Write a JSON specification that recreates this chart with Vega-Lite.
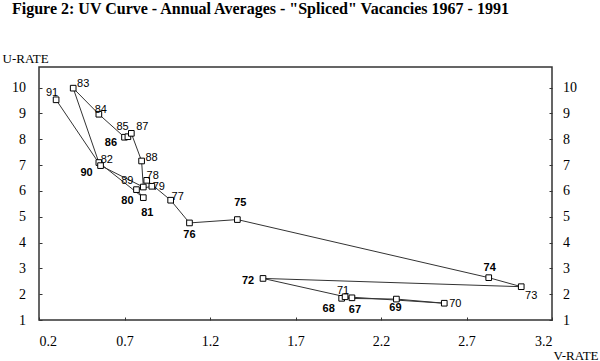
{
  "$schema": "https://vega.github.io/schema/vega-lite/v6.json",
  "width": 513,
  "height": 253,
  "autosize": {"type": "none"},
  "padding": {"left": 39, "top": 67, "right": 48, "bottom": 41},
  "title": {
    "text": "Figure 2: UV Curve - Annual Averages - \"Spliced\" Vacancies 1967 - 1991",
    "font": "Liberation Serif",
    "fontSize": 16,
    "fontWeight": "bold",
    "color": "#000000",
    "anchor": "start",
    "dx": 10,
    "offset": 35
  },
  "config": {
    "view": {"stroke": "#333333", "strokeWidth": 1.5},
    "axis": {
      "domain": false,
      "grid": false,
      "labelFont": "Liberation Serif",
      "labelFontSize": 14,
      "labelColor": "#000000",
      "tickColor": "#333333",
      "tickSize": -3,
      "titleFont": "Liberation Serif",
      "titleFontSize": 13,
      "titleFontWeight": "normal",
      "titleColor": "#000000"
    },
    "text": {"font": "Liberation Sans", "fontSize": 11, "color": "#000000"}
  },
  "data": {
    "values": [
      {"yr": 67, "v": 2.03, "u": 1.86},
      {"yr": 68, "v": 1.97, "u": 1.84},
      {"yr": 69, "v": 2.29, "u": 1.81},
      {"yr": 70, "v": 2.57, "u": 1.65},
      {"yr": 71, "v": 1.99, "u": 1.90},
      {"yr": 72, "v": 1.51, "u": 2.61},
      {"yr": 73, "v": 3.02, "u": 2.29},
      {"yr": 74, "v": 2.83, "u": 2.64},
      {"yr": 75, "v": 1.36, "u": 4.89},
      {"yr": 76, "v": 1.08, "u": 4.76},
      {"yr": 77, "v": 0.97, "u": 5.64},
      {"yr": 78, "v": 0.83, "u": 6.41},
      {"yr": 79, "v": 0.86, "u": 6.18},
      {"yr": 80, "v": 0.77, "u": 6.05},
      {"yr": 81, "v": 0.81, "u": 5.74},
      {"yr": 82, "v": 0.55, "u": 7.10},
      {"yr": 83, "v": 0.40, "u": 9.98},
      {"yr": 84, "v": 0.55, "u": 8.97},
      {"yr": 85, "v": 0.70, "u": 8.08},
      {"yr": 86, "v": 0.72, "u": 8.10},
      {"yr": 87, "v": 0.74, "u": 8.23},
      {"yr": 88, "v": 0.80, "u": 7.16},
      {"yr": 89, "v": 0.81, "u": 6.15},
      {"yr": 90, "v": 0.56, "u": 6.98},
      {"yr": 91, "v": 0.30, "u": 9.53}
    ]
  },
  "encoding": {
    "x": {
      "field": "v", "type": "quantitative",
      "scale": {"domain": [0.2, 3.2], "nice": false, "zero": false},
      "axis": {
        "values": [0.2, 0.7, 1.2, 1.7, 2.2, 2.7, 3.2],
        "format": ".1f",
        "labelFont": "Liberation Serif",
        "labelPadding": 17,
        "labelBaseline": "top",
        "title": "V-RATE",
        "titleAngle": 0,
        "titleX": 514,
        "titleY": 39,
        "titleAlign": "left",
        "titleBaseline": "alphabetic"
      }
    },
    "y": {
      "field": "u", "type": "quantitative",
      "scale": {"domain": [1, 10.8], "nice": false, "zero": false}
    }
  },
  "layer": [
    {
      "layer": [
        {
          "mark": {"type": "line", "color": "#333333", "strokeWidth": 1},
          "encoding": {"order": {"field": "yr", "type": "quantitative"}}
        },
        {
          "mark": {"type": "point", "shape": "square", "size": 32, "filled": true, "fill": "#ffffff", "stroke": "#000000", "strokeWidth": 1, "opacity": 1}
        },
        {"transform": [{"filter": "datum.yr == 67"}], "mark": {"type": "text", "dx": 3, "dy": 12, "fontWeight": "bold"}, "encoding": {"text": {"field": "yr"}}},
        {"transform": [{"filter": "datum.yr == 68"}], "mark": {"type": "text", "dx": -13, "dy": 11, "fontWeight": "bold"}, "encoding": {"text": {"field": "yr"}}},
        {"transform": [{"filter": "datum.yr == 69"}], "mark": {"type": "text", "dx": -1, "dy": 9, "fontWeight": "bold"}, "encoding": {"text": {"field": "yr"}}},
        {"transform": [{"filter": "datum.yr == 70"}], "mark": {"type": "text", "dx": 11, "dy": 1}, "encoding": {"text": {"field": "yr"}}},
        {"transform": [{"filter": "datum.yr == 71"}], "mark": {"type": "text", "dx": -2, "dy": -6}, "encoding": {"text": {"field": "yr"}}},
        {"transform": [{"filter": "datum.yr == 72"}], "mark": {"type": "text", "dx": -15, "dy": 3, "fontWeight": "bold"}, "encoding": {"text": {"field": "yr"}}},
        {"transform": [{"filter": "datum.yr == 73"}], "mark": {"type": "text", "dx": 10, "dy": 9}, "encoding": {"text": {"field": "yr"}}},
        {"transform": [{"filter": "datum.yr == 74"}], "mark": {"type": "text", "dx": 1, "dy": -10, "fontWeight": "bold"}, "encoding": {"text": {"field": "yr"}}},
        {"transform": [{"filter": "datum.yr == 75"}], "mark": {"type": "text", "dx": 3, "dy": -17, "fontWeight": "bold"}, "encoding": {"text": {"field": "yr"}}},
        {"transform": [{"filter": "datum.yr == 76"}], "mark": {"type": "text", "dx": 0, "dy": 12, "fontWeight": "bold"}, "encoding": {"text": {"field": "yr"}}},
        {"transform": [{"filter": "datum.yr == 77"}], "mark": {"type": "text", "dx": 7, "dy": -3}, "encoding": {"text": {"field": "yr"}}},
        {"transform": [{"filter": "datum.yr == 78"}], "mark": {"type": "text", "dx": 6, "dy": -4}, "encoding": {"text": {"field": "yr"}}},
        {"transform": [{"filter": "datum.yr == 79"}], "mark": {"type": "text", "dx": 7, "dy": 1}, "encoding": {"text": {"field": "yr"}}},
        {"transform": [{"filter": "datum.yr == 80"}], "mark": {"type": "text", "dx": -9, "dy": 11, "fontWeight": "bold"}, "encoding": {"text": {"field": "yr"}}},
        {"transform": [{"filter": "datum.yr == 81"}], "mark": {"type": "text", "dx": 4, "dy": 15, "fontWeight": "bold"}, "encoding": {"text": {"field": "yr"}}},
        {"transform": [{"filter": "datum.yr == 82"}], "mark": {"type": "text", "dx": 8, "dy": -3}, "encoding": {"text": {"field": "yr"}}},
        {"transform": [{"filter": "datum.yr == 83"}], "mark": {"type": "text", "dx": 10, "dy": -4}, "encoding": {"text": {"field": "yr"}}},
        {"transform": [{"filter": "datum.yr == 84"}], "mark": {"type": "text", "dx": 2, "dy": -4}, "encoding": {"text": {"field": "yr"}}},
        {"transform": [{"filter": "datum.yr == 85"}], "mark": {"type": "text", "dx": -2, "dy": -10}, "encoding": {"text": {"field": "yr"}}},
        {"transform": [{"filter": "datum.yr == 86"}], "mark": {"type": "text", "dx": -17, "dy": 6, "fontWeight": "bold"}, "encoding": {"text": {"field": "yr"}}},
        {"transform": [{"filter": "datum.yr == 87"}], "mark": {"type": "text", "dx": 11, "dy": -6}, "encoding": {"text": {"field": "yr"}}},
        {"transform": [{"filter": "datum.yr == 88"}], "mark": {"type": "text", "dx": 10, "dy": -3}, "encoding": {"text": {"field": "yr"}}},
        {"transform": [{"filter": "datum.yr == 89"}], "mark": {"type": "text", "dx": -16, "dy": -6}, "encoding": {"text": {"field": "yr"}}},
        {"transform": [{"filter": "datum.yr == 90"}], "mark": {"type": "text", "dx": -14, "dy": 7, "fontWeight": "bold"}, "encoding": {"text": {"field": "yr"}}},
        {"transform": [{"filter": "datum.yr == 91"}], "mark": {"type": "text", "dx": -4, "dy": -7}, "encoding": {"text": {"field": "yr"}}}
      ],
      "encoding": {
        "y": {
          "field": "u", "type": "quantitative",
          "scale": {"domain": [1, 10.8], "nice": false, "zero": false},
          "axis": {
            "orient": "left",
            "values": [1, 2, 3, 4, 5, 6, 7, 8, 9, 10],
            "labelFont": "Liberation Serif",
            "labelPadding": 16.5,
            "title": "U-RATE",
            "titleAngle": 0,
            "titleX": -37,
            "titleY": -5,
            "titleAlign": "left",
            "titleBaseline": "alphabetic"
          }
        }
      }
    },
    {
      "mark": {"type": "point", "opacity": 0},
      "encoding": {
        "y": {
          "field": "u", "type": "quantitative",
          "scale": {"domain": [1, 10.8], "nice": false, "zero": false},
          "axis": {
            "orient": "right",
            "values": [1, 2, 3, 4, 5, 6, 7, 8, 9, 10],
            "labelFont": "Liberation Serif",
            "labelPadding": 13.5,
            "title": null
          }
        }
      }
    }
  ],
  "resolve": {"axis": {"y": "independent"}}
}
